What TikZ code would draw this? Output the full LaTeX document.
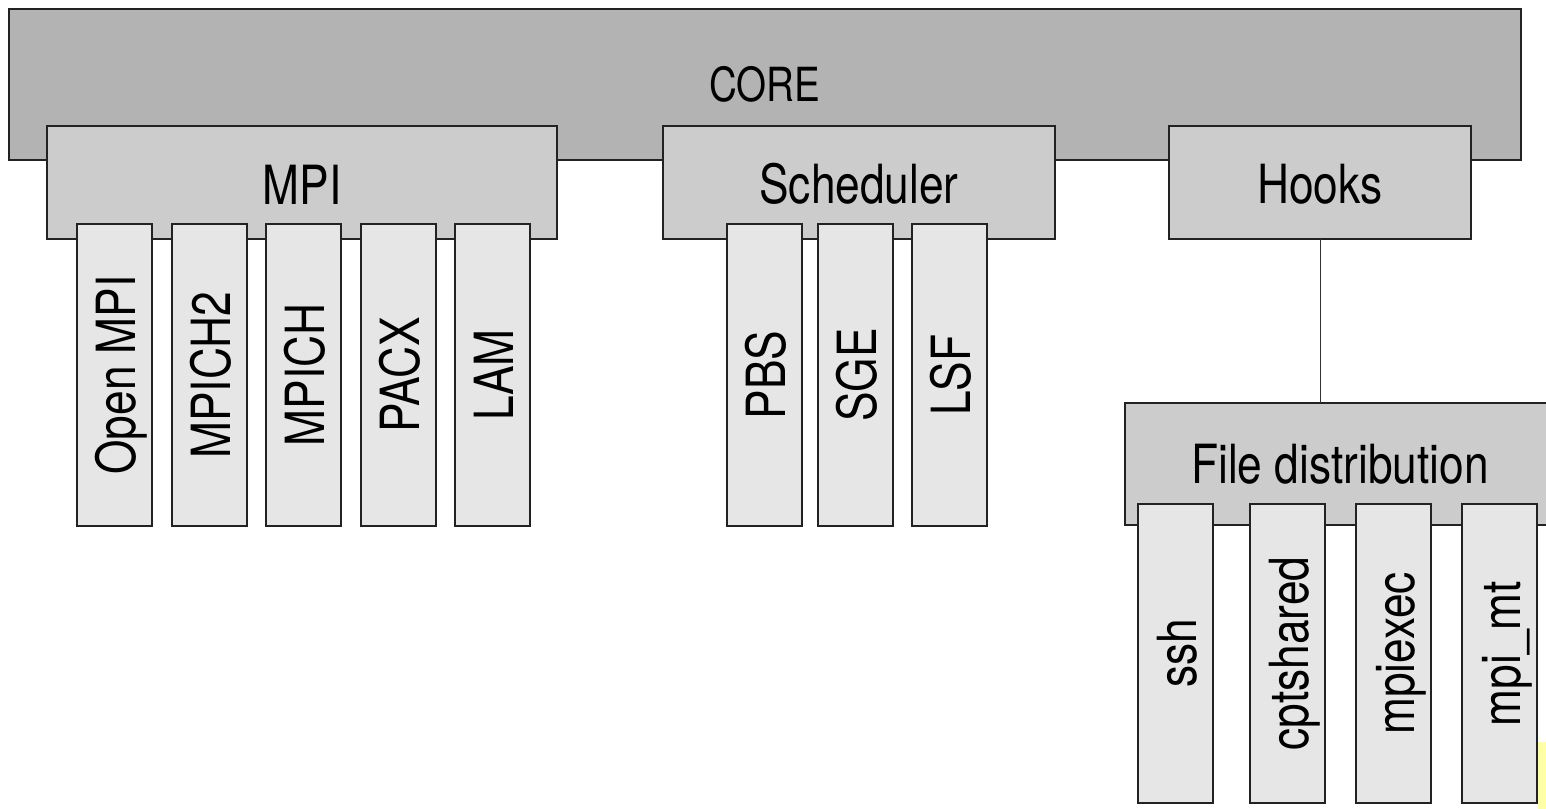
\documentclass[tikz,border=0pt]{standalone}
\usepackage{fontspec}
\setmainfont[FakeStretch=0.82]{TeX Gyre Heros}
\definecolor{coreg}{HTML}{B3B3B3}
\definecolor{midg}{HTML}{CCCCCC}
\definecolor{leafg}{HTML}{E6E6E6}
\definecolor{edgeg}{HTML}{222222}
\definecolor{connc}{HTML}{333333}
\definecolor{notey}{HTML}{FFFFA8}
\tikzset{
  box/.style={draw=edgeg, line width=1.2pt, anchor=north west, inner sep=0pt, outer sep=0pt},
  corebox/.style={box, fill=coreg},
  midbox/.style={box, fill=midg},
  leafbox/.style={box, fill=leafg, minimum width=75pt},
  hlbl/.style={anchor=base, inner sep=0pt, font=\fontsize{54}{60}\selectfont},
  corelbl/.style={anchor=base, inner sep=0pt, font=\fontsize{47}{52}\selectfont},
  vlbl/.style={hlbl, rotate=90},
  conn/.style={draw=connc, line width=1pt},
}
\begin{document}
\begin{tikzpicture}[x=1pt, y=-1pt]
\useasboundingbox (0,0) rectangle (1546,808);
\clip (0,0) rectangle (1546,808);
\fill[white] (0,0) rectangle (1546,808);
% note fragment at the right edge
\node[fill=notey, anchor=north west, inner sep=0pt, minimum width=20pt, minimum height=70pt] (note) at (1538,742) {};
% core
\node[corebox, minimum width=1512pt, minimum height=151pt] (core) at (9,9) {};
\node[corelbl] (corel) at ([yshift=-17pt]core.center) {CORE};
% second level
\node[midbox, minimum width=510pt, minimum height=113pt] (mpi) at (47,126) {};
\node[midbox, minimum width=392pt, minimum height=113pt] (sched) at (663,126) {};
\node[midbox, minimum width=302pt, minimum height=113pt] (hooks) at (1169,126) {};
\node[midbox, minimum width=430pt, minimum height=122pt] (fd) at (1125,403) {};
\node[hlbl] (mpil) at ([yshift=-21.5pt]mpi.center) {MPI};
\node[hlbl] (schedl) at ([yshift=-21pt]sched.center) {Scheduler};
\node[hlbl] (hooksl) at ([yshift=-21pt]hooks.center) {Hooks};
\node[hlbl] (fdl) at ([yshift=-19pt]fd.center) {File distribution};
% connector
\draw[conn] (hooks.south) -- (hooks.south |- fd.north);
% MPI leaves
\node[leafbox, minimum height=302pt] (ompi) at (77,224) {};
\node[leafbox, minimum height=302pt] (mpich2) at (172,224) {};
\node[leafbox, minimum height=302pt] (mpich) at (266,224) {};
\node[leafbox, minimum height=302pt] (pacx) at (361,224) {};
\node[leafbox, minimum height=302pt] (lam) at (455,224) {};
\node[vlbl] (ompil) at ([xshift=20.5pt]ompi.center) {Open MPI};
\node[vlbl] (mpich2l) at ([xshift=20.5pt]mpich2.center) {MPICH2};
\node[vlbl] (mpichl) at ([xshift=20.5pt]mpich.center) {MPICH};
\node[vlbl] (pacxl) at ([xshift=20.5pt]pacx.center) {PACX};
\node[vlbl] (laml) at ([xshift=20.5pt]lam.center) {LAM};
% scheduler leaves
\node[leafbox, minimum height=302pt] (pbs) at (727,224) {};
\node[leafbox, minimum height=302pt] (sge) at (818,224) {};
\node[leafbox, minimum height=302pt] (lsf) at (912,224) {};
\node[vlbl] (pbsl) at ([xshift=20.5pt]pbs.center) {PBS};
\node[vlbl] (sgel) at ([xshift=20.5pt]sge.center) {SGE};
\node[vlbl] (lsfl) at ([xshift=20.5pt]lsf.center) {LSF};
% file distribution leaves
\node[leafbox, minimum height=299pt] (ssh) at (1138,504) {};
\node[leafbox, minimum height=299pt] (cpt) at (1250,504) {};
\node[leafbox, minimum height=299pt] (mpiexec) at (1356,504) {};
\node[leafbox, minimum height=299pt] (mpimt) at (1462,504) {};
\node[vlbl] (sshl) at ([xshift=21pt]ssh.center) {ssh};
\node[vlbl] (cptl) at ([xshift=21pt]cpt.center) {cptshared};
\node[vlbl] (mpiexecl) at ([xshift=21pt]mpiexec.center) {mpiexec};
\node[vlbl] (mpimtl) at ([xshift=21pt]mpimt.center) {mpi\_mt};
\end{tikzpicture}
\end{document}
